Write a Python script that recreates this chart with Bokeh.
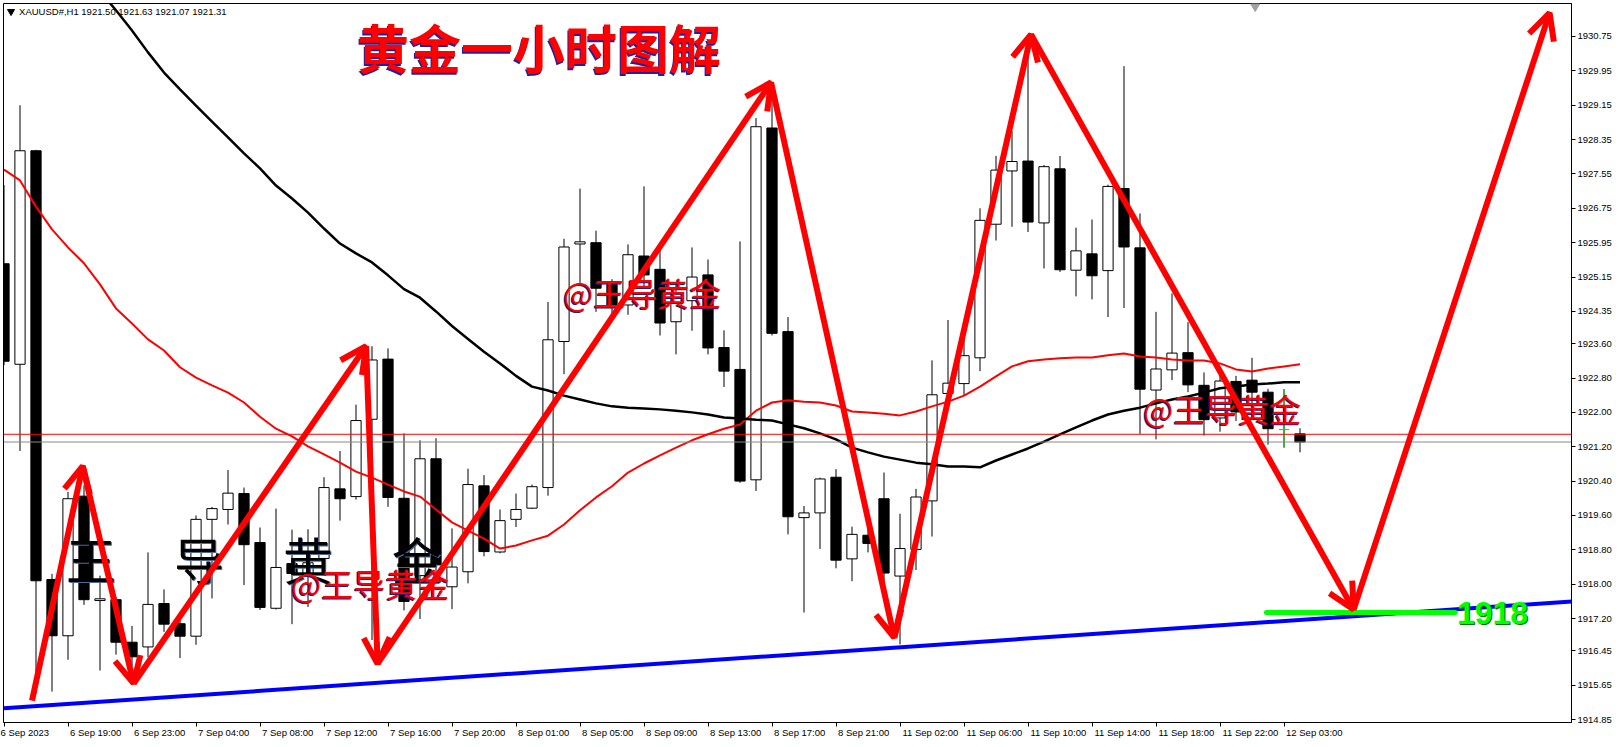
from bokeh.plotting import figure
from bokeh.models import (Range1d, FixedTicker, PrintfTickFormatter, Arrow, OpenHead,
                          ColumnDataSource, Span)
from bokeh.core.properties import value
from bokeh.embed import file_html
from bokeh.resources import INLINE

# ---------------- XAUUSD H1 bars (6 Sep 15:00 .. 12 Sep 04:00) ----------------
opens = [1925.46, 1923.12, 1928.09, 1918.11, 1916.80, 1920.05, 1917.62, 1917.64, 1916.65, 1916.54,
         1917.55, 1917.08, 1916.79, 1919.51, 1919.74, 1920.11, 1918.97, 1917.44, 1918.48, 1918.20,
         1918.60, 1920.22, 1920.04, 1921.84, 1923.24, 1920.00, 1918.20, 1920.92, 1917.94, 1918.29,
         1920.29, 1918.75, 1919.51, 1919.77, 1920.25, 1923.65, 1925.92, 1925.95, 1924.98, 1924.50,
         1925.64, 1925.33, 1924.11, 1924.60, 1925.20, 1923.51, 1923.00, 1920.43, 1928.62, 1923.88,
         1919.55, 1919.66, 1920.49, 1918.59, 1919.14, 1919.99, 1918.19, 1918.81, 1919.94, 1922.44,
         1922.67, 1923.27, 1926.38, 1927.62, 1927.85, 1926.41, 1927.67, 1925.31, 1925.69, 1925.30,
         1927.21, 1925.83, 1922.52, 1922.99, 1923.39, 1922.63, 1921.87, 1922.72, 1922.75, 1922.47,
         1921.60, 1921.50]
highs = [1927.29, 1929.15, 1928.11, 1918.24, 1920.15, 1920.30, 1918.20, 1917.70, 1917.03, 1918.74,
         1917.88, 1917.15, 1919.60, 1919.80, 1920.66, 1920.25, 1919.32, 1919.76, 1919.27, 1919.28,
         1920.49, 1921.10, 1922.18, 1923.54, 1923.49, 1921.51, 1921.35, 1921.40, 1919.30, 1920.69,
         1920.54, 1919.74, 1920.11, 1920.32, 1924.57, 1926.04, 1927.21, 1926.23, 1925.10, 1925.91,
         1927.26, 1925.81, 1925.00, 1925.84, 1925.56, 1923.91, 1925.98, 1928.85, 1929.65, 1924.22,
         1919.82, 1920.48, 1920.68, 1919.34, 1919.30, 1920.60, 1919.64, 1920.22, 1923.21, 1924.15,
         1923.70, 1926.75, 1927.97, 1928.55, 1930.55, 1927.76, 1927.97, 1926.30, 1926.49, 1927.30,
         1930.06, 1926.63, 1924.34, 1924.77, 1924.10, 1922.93, 1923.02, 1922.85, 1923.27, 1922.55,
         1922.54, 1921.63]
lows = [1923.10, 1921.10, 1915.45, 1915.50, 1916.24, 1917.52, 1915.99, 1916.36, 1916.10, 1916.30,
        1916.89, 1916.28, 1916.59, 1917.67, 1919.39, 1917.98, 1917.40, 1917.41, 1917.07, 1917.47,
        1918.40, 1919.48, 1919.97, 1916.70, 1919.80, 1917.39, 1917.19, 1918.20, 1917.42, 1918.02,
        1918.65, 1918.72, 1919.33, 1919.75, 1920.06, 1922.89, 1924.94, 1924.34, 1924.30, 1924.27,
        1924.90, 1923.79, 1923.35, 1923.90, 1923.35, 1922.59, 1920.36, 1920.17, 1923.79, 1919.16,
        1917.34, 1918.82, 1918.37, 1918.07, 1918.74, 1917.90, 1916.60, 1918.33, 1919.11, 1922.30,
        1922.38, 1922.96, 1926.00, 1926.32, 1926.20, 1925.35, 1925.27, 1924.70, 1924.63, 1924.22,
        1924.43, 1921.50, 1921.37, 1922.75, 1922.47, 1921.46, 1921.55, 1921.80, 1922.20, 1921.25,
        1921.18, 1921.07]
closes = [1923.19, 1928.09, 1918.08, 1916.80, 1919.99, 1917.64, 1917.66, 1916.65, 1916.31, 1917.53,
          1917.07, 1916.79, 1919.51, 1919.76, 1920.12, 1918.92, 1917.46, 1918.39, 1918.25, 1918.50,
          1920.25, 1919.99, 1921.81, 1923.22, 1920.02, 1917.60, 1920.92, 1918.45, 1918.40, 1920.32,
          1918.76, 1919.48, 1919.74, 1920.27, 1923.69, 1925.85, 1925.97, 1924.89, 1924.49, 1925.67,
          1925.20, 1924.08, 1924.76, 1925.15, 1923.50, 1922.96, 1920.40, 1928.65, 1923.84, 1919.57,
          1919.66, 1920.45, 1918.56, 1919.16, 1918.95, 1918.26, 1918.83, 1920.03, 1922.41, 1922.68,
          1923.32, 1926.47, 1927.64, 1927.84, 1926.43, 1927.72, 1925.32, 1925.76, 1925.18, 1927.26,
          1925.85, 1922.54, 1923.01, 1923.38, 1922.64, 1921.83, 1922.73, 1922.01, 1922.47, 1921.62,
          1921.60, 1921.31]

# moving averages (red: fast, black: slow, the slow one enters from above at bar 6)
ma_fast = [1927.65, 1927.40, 1926.79, 1926.26, 1925.84, 1925.47, 1924.98, 1924.42, 1924.07, 1923.70,
           1923.44, 1923.05, 1922.81, 1922.63, 1922.46, 1922.23, 1921.90, 1921.62, 1921.44, 1921.21,
           1921.02, 1920.83, 1920.62, 1920.48, 1920.32, 1920.16, 1920.04, 1919.74, 1919.44, 1919.25,
           1919.06, 1918.83, 1918.90, 1919.02, 1919.13, 1919.39, 1919.72, 1920.02, 1920.28, 1920.60,
           1920.81, 1921.00, 1921.18, 1921.35, 1921.49, 1921.62, 1921.72, 1922.04, 1922.23, 1922.28,
           1922.25, 1922.23, 1922.16, 1922.02, 1922.00, 1921.97, 1921.93, 1922.02, 1922.14, 1922.25,
           1922.39, 1922.60, 1922.84, 1923.07, 1923.19, 1923.23, 1923.26, 1923.28, 1923.28, 1923.33,
           1923.37, 1923.30, 1923.28, 1923.23, 1923.21, 1923.21, 1923.14, 1923.00, 1922.95, 1923.02,
           1923.07, 1923.12]
ma_slow_start = 6
ma_slow = [1931.80, 1931.36, 1930.89, 1930.38, 1929.91, 1929.52, 1929.14, 1928.77, 1928.40, 1928.03,
           1927.68, 1927.28, 1926.98, 1926.65, 1926.28, 1925.93, 1925.70, 1925.49, 1925.19, 1924.87,
           1924.67, 1924.35, 1924.01, 1923.71, 1923.41, 1923.14, 1922.85, 1922.60, 1922.51, 1922.39,
           1922.30, 1922.21, 1922.14, 1922.11, 1922.09, 1922.07, 1922.04, 1922.00, 1921.95, 1921.88,
           1921.86, 1921.83, 1921.81, 1921.72, 1921.63, 1921.51, 1921.37, 1921.18, 1921.07, 1920.97,
           1920.90, 1920.83, 1920.79, 1920.74, 1920.74, 1920.72, 1920.88, 1921.02, 1921.16, 1921.32,
           1921.49, 1921.65, 1921.81, 1921.95, 1922.04, 1922.11, 1922.21, 1922.30, 1922.37, 1922.46,
           1922.56, 1922.60, 1922.65, 1922.67, 1922.70, 1922.70]

# time axis
time_tick_bars = list(range(0, 81, 4))
time_tick_labels = ["6 Sep 2023", "6 Sep 19:00", "6 Sep 23:00", "7 Sep 04:00", "7 Sep 08:00",
                    "7 Sep 12:00", "7 Sep 16:00", "7 Sep 20:00", "8 Sep 01:00", "8 Sep 05:00",
                    "8 Sep 09:00", "8 Sep 13:00", "8 Sep 17:00", "8 Sep 21:00", "11 Sep 02:00",
                    "11 Sep 06:00", "11 Sep 10:00", "11 Sep 14:00", "11 Sep 18:00", "11 Sep 22:00",
                    "12 Sep 03:00"]
# price axis
price_ticks = [1930.75, 1929.95, 1929.15, 1928.35, 1927.55, 1926.75, 1925.95, 1925.15, 1924.35,
               1923.60, 1922.80, 1922.00, 1921.20, 1920.40, 1919.60, 1918.80, 1918.00, 1917.20,
               1916.45, 1915.65, 1914.85]

ask_price = 1921.49
bid_price = 1921.31
header_text = "XAUUSD#,H1  1921.50 1921.63 1921.07 1921.31"

# drawn analysis objects
swing_bars = [1.75, 4.92, 8.10, 22.63, 23.35, 47.94, 55.64, 64.19, 84.35, 96.60]
swing_prices = [1915.29, 1920.75, 1915.69, 1923.54, 1916.15, 1929.68, 1916.76, 1930.80, 1917.41, 1931.30]
trend_bars = [0, 98]
trend_prices = [1915.11, 1917.60]
target_bars = [78.9, 90.7]
target_price = 1917.34
target_text = "1918"

title_text = "黄金一小时图解"
watermark_chars = ["王", "导", "黄", "金"]
watermark_bars = [5.44, 12.19, 19.0, 25.8]
watermark_price = 1918.60
tag_text = "@王导黄金"
tag_bars = [34.94, 71.19, 17.94]
tag_prices = [1924.81, 1922.11, 1918.02]

# ---------------- figure ----------------
W, H = 1619, 747
n = len(opens)
idx = list(range(n))
half_px = 1.0 / 32.0
X0, X1 = -half_px, 98 - half_px
Y0, Y1 = 1914.781, 1931.518
AXIS_FONT = "Liberation Sans"
AXIS_SIZE = 9.5

p = figure(width=W, height=H, x_range=Range1d(X0, X1), y_range=Range1d(Y0, Y1),
           y_axis_location="right", output_backend="svg", toolbar_location=None,
           min_border_left=3, min_border_top=3, min_border_right=48, min_border_bottom=25,
           background_fill_color="white", border_fill_color="white")
p.outline_line_color = "black"
p.outline_line_width = 1
p.grid.visible = False

yax = p.yaxis[0]
yax.ticker = FixedTicker(ticks=price_ticks)
yax.formatter = PrintfTickFormatter(format="%.2f")
yax.major_tick_out = 4
yax.major_tick_in = 0
yax.minor_tick_line_color = None
yax.axis_line_color = "black"
yax.major_label_text_font = AXIS_FONT
yax.major_label_text_font_size = f"{AXIS_SIZE}px"
yax.major_label_text_color = "black"
yax.major_label_standoff = 2

# Time labels are left-aligned at their tick, terminal style: the axis centres its
# labels, so each one is padded on the left with no-break spaces of equal total width.
# The first one sits at the left edge and is kept inside the canvas by the axis itself.
ADV = {d: 556 for d in "0123456789"}
ADV.update({" ": 278, "S": 667, "e": 556, "p": 556, ":": 278})


def text_px(s):
    return sum(ADV.get(ch, 556) for ch in s) * AXIS_SIZE / 1000.0


nbsp_px = 278 * AXIS_SIZE / 1000.0


def left_aligned(s, gap=2.0):
    k = int(round((text_px(s) + 2 * gap) / nbsp_px))
    return "\u00a0" * k + s


label_map = {}
for b, lab in zip(time_tick_bars, time_tick_labels):
    label_map[b] = lab if b == time_tick_bars[0] else left_aligned(lab)

xax = p.xaxis[0]
xax.ticker = FixedTicker(ticks=time_tick_bars)
xax.major_label_overrides = label_map
xax.major_tick_out = 4
xax.major_tick_in = 0
xax.minor_tick_line_color = None
xax.axis_line_color = "black"
xax.major_label_text_font = AXIS_FONT
xax.major_label_text_font_size = f"{AXIS_SIZE}px"
xax.major_label_text_color = "black"
xax.major_label_standoff = 0

# ---------------- candles ----------------
src = ColumnDataSource(dict(x=idx, o=opens, h=highs, l=lows, c=closes))
p.segment(x0="x", y0="h", x1="x", y1="l", source=src, line_color="black", line_width=1)

bull = [i for i in idx if closes[i] > opens[i]]
bear = [i for i in idx if closes[i] < opens[i]]
flat = [i for i in idx if closes[i] == opens[i]]
body_w = 0.64
p.vbar(x=bull, bottom=[opens[i] for i in bull], top=[closes[i] for i in bull], width=body_w,
       fill_color="white", line_color="black", line_width=1)
p.vbar(x=bear, bottom=[closes[i] for i in bear], top=[opens[i] for i in bear], width=body_w,
       fill_color="black", line_color="black", line_width=1)
# bars with open == close are drawn as a green cross
for i in flat:
    p.segment(x0=[i], y0=[highs[i]], x1=[i], y1=[lows[i]], line_color="#00e000", line_width=1)
    p.segment(x0=[i - body_w / 2], y0=[opens[i]], x1=[i + body_w / 2], y1=[opens[i]],
              line_color="#00e000", line_width=1)

# ---------------- indicators and levels ----------------
p.line(idx, ma_fast, line_color="#ff0000", line_width=2)
p.line(list(range(ma_slow_start, ma_slow_start + len(ma_slow))), ma_slow,
       line_color="black", line_width=2.5)

p.add_layout(Span(location=ask_price, dimension="width", line_color="#ff0000", line_width=1))
p.add_layout(Span(location=bid_price, dimension="width", line_color="#8a8a8a", line_width=1))

p.line(trend_bars, trend_prices, line_color="#0000ff", line_width=4)
p.line(target_bars, [target_price, target_price], line_color="#00ff00", line_width=5,
       line_cap="round")

# big watermark characters
p.text(x=watermark_bars, y=[watermark_price] * 4, text=watermark_chars, x_offset=1, y_offset=1,
       text_font=value("Noto Sans CJK SC"), text_font_size="50px", text_color="#4a6aa0",
       text_align="center", text_baseline="middle")
p.text(x=watermark_bars, y=[watermark_price] * 4, text=watermark_chars,
       text_font=value("Noto Sans CJK SC"), text_font_size="50px", text_color="black",
       text_align="center", text_baseline="middle")

# swing arrows
arr = ColumnDataSource(dict(x0=swing_bars[:-1], y0=swing_prices[:-1],
                            x1=swing_bars[1:], y1=swing_prices[1:]))
p.add_layout(Arrow(end=OpenHead(line_color="#ff0000", line_width=6, size=26),
                   x_start="x0", y_start="y0", x_end="x1", y_end="y1", source=arr,
                   line_color="#ff0000", line_width=6))

# watermark tags
p.text(x=tag_bars, y=tag_prices, text=[tag_text] * 3, x_offset=-1, y_offset=1,
       text_font=value("Noto Sans CJK SC"), text_font_size="32px", text_color="#202080",
       text_align="left", text_baseline="middle")
p.text(x=tag_bars, y=tag_prices, text=[tag_text] * 3,
       text_font=value("Noto Sans CJK SC"), text_font_size="32px", text_color="#ff0000",
       text_align="left", text_baseline="middle")

# title
p.text(x=[22.06], y=[1930.52], text=[title_text], x_offset=-1, y_offset=2,
       text_font=value("Noto Sans CJK SC"), text_font_style="bold", text_font_size="52px",
       text_color="#2020a0", text_align="left", text_baseline="middle")
p.text(x=[22.06], y=[1930.52], text=[title_text],
       text_font=value("Noto Sans CJK SC"), text_font_style="bold", text_font_size="52px",
       text_color="#ff0000", text_align="left", text_baseline="middle")

# target label
p.text(x=[90.81], y=[target_price], text=[target_text], x_offset=1, y_offset=1,
       text_font=value("Liberation Sans"), text_font_style="bold", text_font_size="32px",
       text_color="#007000", text_align="left", text_baseline="middle")
p.text(x=[90.81], y=[target_price], text=[target_text],
       text_font=value("Liberation Sans"), text_font_style="bold", text_font_size="32px",
       text_color="#00ff00", text_align="left", text_baseline="middle")

# symbol header
p.scatter(x=[0.44], y=[1931.33], marker="inverted_triangle", size=7, color="black")
p.text(x=[0.94], y=[1931.33], text=[header_text], text_font=value(AXIS_FONT),
       text_font_size=f"{AXIS_SIZE}px", text_color="black", text_align="left",
       text_baseline="middle")
p.scatter(x=[78.2], y=[1931.45], marker="inverted_triangle", size=9, color="#a0a0a0")

open("out.html", "w").write(file_html(p, INLINE))
